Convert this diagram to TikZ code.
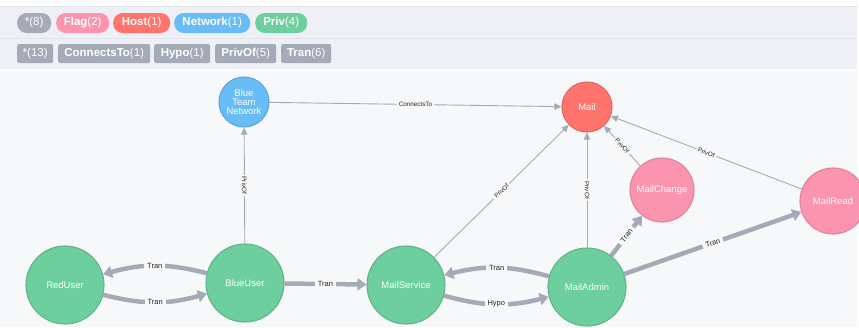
\documentclass[tikz,border=0pt]{standalone}
\usepackage{fontspec}
\setmainfont{Liberation Sans}
\usetikzlibrary{arrows.meta}
\definecolor{bgmain}{HTML}{F7F8FA}
\definecolor{bgbar}{HTML}{EEF0F6}
\definecolor{barline}{HTML}{E1E4EB}
\definecolor{edgegray}{HTML}{A5ABB6}
\definecolor{cgreen}{HTML}{6DCE9E}
\definecolor{cgreenb}{HTML}{60B58B}
\definecolor{cred}{HTML}{FF756E}
\definecolor{credb}{HTML}{E06760}
\definecolor{cblue}{HTML}{68BDF6}
\definecolor{cblueb}{HTML}{5CA8DB}
\definecolor{cpink}{HTML}{FB95AF}
\definecolor{cpinkb}{HTML}{E0849B}
\tikzset{
  gnode/.style={circle, inner sep=0pt, line width=1.1pt, text=white, font=\fontsize{9.5}{9}\selectfont, align=center},
  thinedge/.style={draw=edgegray, line width=0.9pt, -{Triangle[length=7pt,width=6.5pt]}},
  thickedge/.style={draw=edgegray, line width=4.5pt, -{Triangle[length=9pt,width=12pt]}},
  thinlbl/.style={fill=bgmain, inner xsep=2pt, inner ysep=1pt, font=\fontsize{6.3}{7}\selectfont, text=black!85},
  thicklbl/.style={fill=bgmain, inner xsep=3pt, inner ysep=1pt, font=\fontsize{7.5}{8}\selectfont, text=black!85},
  pill/.style={rounded corners=9.5pt, minimum height=20pt, inner sep=0pt, text=white, font=\fontsize{11.5}{12}\selectfont, anchor=west},
  tag/.style={rounded corners=2pt, fill=edgegray, minimum height=19pt, inner sep=0pt, text=white, font=\fontsize{11.5}{12}\selectfont, anchor=west}
}
\begin{document}
\begin{tikzpicture}[x=1pt,y=-1pt]
\useasboundingbox (0,0) rectangle (859,327);
% backgrounds
\fill[white] (0,0) rectangle (859,327);
\fill[bgbar] (0,6) rectangle (857,69);
\draw[barline, line width=0.8pt] (0,38) -- (857,38);
\draw[barline, line width=0.8pt] (0,6) -- (857,6);
\fill[bgmain] (0,70) rectangle (857,327);
% legend row 1
\node[pill, fill=edgegray, minimum width=34pt] (l1) at (17,23) {*(8)};
\node[pill, fill=cpink, minimum width=53pt] (l2) at (56,23) {\textbf{Flag}(2)};
\node[pill, fill=cred, minimum width=57pt] (l3) at (113,23) {\textbf{Host}(1)};
\node[pill, fill=cblue, minimum width=76pt] (l4) at (174,23) {\textbf{Network}(1)};
\node[pill, fill=cgreen, minimum width=52pt] (l5) at (255,23) {\textbf{Priv}(4)};
% legend row 2
\node[tag, minimum width=36pt] (r1) at (17,53.5) {*(13)};
\node[tag, minimum width=92pt] (r2) at (58,53.5) {\textbf{ConnectsTo}(1)};
\node[tag, minimum width=56pt] (r3) at (154,53.5) {\textbf{Hypo}(1)};
\node[tag, minimum width=61pt] (r4) at (215,53.5) {\textbf{PrivOf}(5)};
\node[tag, minimum width=50pt] (r5) at (281,53.5) {\textbf{Tran}(6)};
% graph nodes
\node[gnode, fill=cblue, draw=cblueb, minimum size=50pt] (btn) at (244,102) {Blue\\Team\\Network};
\node[gnode, fill=cred, draw=credb, minimum size=50pt] (mail) at (587,107) {Mail};
\node[gnode, fill=cpink, draw=cpinkb, minimum size=64pt] (mchange) at (662,190) {MailChange};
\node[gnode, fill=cpink, draw=cpinkb, minimum size=66pt] (mread) at (833,201) {MailRead};
\node[gnode, fill=cgreen, draw=cgreenb, minimum size=78pt] (red) at (65,285) {RedUser};
\node[gnode, fill=cgreen, draw=cgreenb, minimum size=78pt] (blue) at (245,283) {BlueUser};
\node[gnode, fill=cgreen, draw=cgreenb, minimum size=78pt] (msvc) at (406,285) {MailService};
\node[gnode, fill=cgreen, draw=cgreenb, minimum size=78pt] (madmin) at (587,287) {MailAdmin};
% thin edges
\draw[thinedge] (btn) -- node[thinlbl] {ConnectsTo} (mail);
\draw[thinedge] (blue) -- node[thinlbl, rotate=-90] {PrivOf} (btn);
\draw[thinedge] (msvc) -- node[thinlbl, sloped] {PrivOf} (mail);
\draw[thinedge] (madmin) -- node[thinlbl, rotate=-90] {PrivOf} (mail);
\draw[thinedge] (mchange) -- node[thinlbl, sloped] {PrivOf} (mail);
\draw[thinedge] (mread) -- node[thinlbl, sloped] {PrivOf} (mail);
% thick edges
\draw[thickedge] (blue) to[bend right=15] node[thicklbl] {Tran} (red);
\draw[thickedge] (red) to[bend right=15] node[thicklbl] {Tran} (blue);
\draw[thickedge] (blue) -- node[thicklbl] {Tran} (msvc);
\draw[thickedge] (madmin) to[bend right=15] node[thicklbl] {Tran} (msvc);
\draw[thickedge] (msvc) to[bend right=15] node[thicklbl] {Hypo} (madmin);
\draw[thickedge] (madmin) -- node[thicklbl, sloped] {Tran} (mchange);
\draw[thickedge] (madmin) -- node[thicklbl, sloped] {Tran} (mread);
\end{tikzpicture}
\end{document}
